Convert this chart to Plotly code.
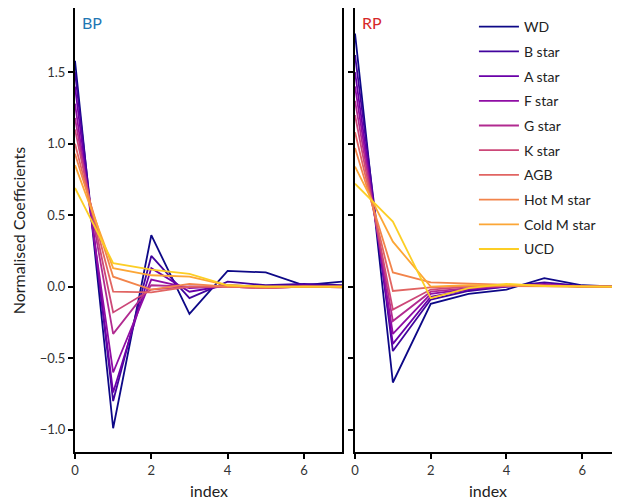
import plotly.graph_objects as go

index = [0, 1, 2, 3, 4, 5, 6, 7]
classes = ["WD", "B star", "A star", "F star", "G star", "K star", "AGB",
           "Hot M star", "Cold M star", "UCD"]
colors = ["#0d0887", "#41049d", "#6a00a8", "#8f0da4", "#b12a90", "#cc4778",
          "#e16462", "#f2844b", "#fca636", "#fcce25"]

bp_wd = [1.58, -0.99, 0.36, -0.19, 0.11, 0.10, 0.01, 0.035]
bp_b = [1.50, -0.80, 0.215, -0.08, 0.035, 0.01, 0.02, 0.01]
bp_a = [1.40, -0.74, 0.13, -0.035, 0.01, 0.0, 0.01, 0.0]
bp_f = [1.28, -0.60, 0.05, -0.01, 0.005, -0.005, 0.0, 0.0]
bp_g = [1.18, -0.33, 0.01, 0.0, 0.0, -0.01, 0.0, 0.0]
bp_k = [1.10, -0.18, -0.02, 0.0, 0.0, -0.01, 0.0, -0.005]
bp_agb = [1.00, -0.035, -0.04, 0.0, 0.0, -0.01, 0.0, -0.005]
bp_hotm = [0.93, 0.07, -0.02, 0.02, 0.0, 0.0, 0.0, 0.0]
bp_coldm = [0.85, 0.13, 0.08, 0.07, 0.01, 0.0, 0.0, 0.0]
bp_ucd = [0.69, 0.165, 0.12, 0.09, 0.01, 0.0, 0.0, 0.0]

rp_wd = [1.77, -0.67, -0.12, -0.05, -0.02, 0.06, 0.01, 0.0]
rp_b = [1.62, -0.45, -0.09, -0.03, 0.0, 0.03, 0.005, 0.0]
rp_a = [1.50, -0.40, -0.07, -0.02, 0.0, 0.02, 0.0, 0.0]
rp_f = [1.40, -0.33, -0.05, -0.015, 0.005, 0.015, 0.0, 0.0]
rp_g = [1.30, -0.24, -0.035, -0.01, 0.005, 0.01, 0.0, 0.0]
rp_k = [1.20, -0.16, -0.02, 0.0, 0.005, 0.01, 0.0, 0.0]
rp_agb = [1.08, -0.03, -0.005, 0.005, 0.005, 0.005, 0.0, 0.0]
rp_hotm = [0.97, 0.10, 0.03, 0.02, 0.01, 0.005, 0.0, 0.0]
rp_coldm = [0.84, 0.315, 0.0, 0.01, 0.01, 0.005, 0.0, 0.0]
rp_ucd = [0.72, 0.455, -0.08, -0.01, 0.02, 0.005, 0.0, 0.0]

bp_series = [bp_wd, bp_b, bp_a, bp_f, bp_g, bp_k, bp_agb, bp_hotm, bp_coldm, bp_ucd]
rp_series = [rp_wd, rp_b, rp_a, rp_f, rp_g, rp_k, rp_agb, rp_hotm, rp_coldm, rp_ucd]

fig = go.Figure()
for i, name in enumerate(classes):
    fig.add_trace(go.Scatter(x=index, y=bp_series[i], mode="lines", name=name,
                             line=dict(color=colors[i], width=1.8),
                             xaxis="x", yaxis="y", showlegend=False,
                             legendgroup=name))
for i, name in enumerate(classes):
    fig.add_trace(go.Scatter(x=index, y=rp_series[i], mode="lines", name=name,
                             line=dict(color=colors[i], width=1.8),
                             xaxis="x2", yaxis="y2", showlegend=True,
                             legendgroup=name))

font_family = "Lato, 'Open Sans', sans-serif"
axis_common = dict(showline=True, linecolor="black", linewidth=2, mirror=True,
                   ticks="outside", tickcolor="black", tickwidth=1.5, ticklen=5,
                   showgrid=False, zeroline=False, automargin=False,
                   tickfont=dict(size=13, color="#333333"))

# the page body has an 8px margin, so the figure is 612x493
fig.update_layout(
    width=612, height=493,
    margin=dict(l=67, r=0, t=0, b=49),
    paper_bgcolor="white", plot_bgcolor="white",
    font=dict(family=font_family, color="#222222"),
    xaxis=dict(domain=[0, 0.49], range=[0, 7], tickvals=[0, 2, 4, 6],
               **axis_common),
    xaxis2=dict(domain=[0.5138, 1.0], range=[0, 7], tickvals=[0, 2, 4, 6],
                anchor="y2", **axis_common),
    yaxis=dict(range=[-1.156, 1.949], tickvals=[-1.0, -0.5, 0.0, 0.5, 1.0, 1.5],
               tickformat=".1f", **axis_common),
    yaxis2=dict(range=[-1.156, 1.949], tickvals=[-1.0, -0.5, 0.0, 0.5, 1.0, 1.5],
                anchor="x2", matches="y", showticklabels=False,
                **axis_common),
    legend=dict(x=0.732, y=0.993, xanchor="left", yanchor="top",
                bgcolor="rgba(0,0,0,0)", font=dict(size=14, color="#222222"),
                tracegroupgap=3.5, itemwidth=40),
    annotations=[
        dict(text="BP", xref="x domain", yref="y domain", x=0.02, y=0.993,
             xanchor="left", yanchor="top", showarrow=False,
             font=dict(size=16, color="#1f77b4")),
        dict(text="RP", xref="x2 domain", yref="y2 domain", x=0.02, y=0.993,
             xanchor="left", yanchor="top", showarrow=False,
             font=dict(size=16, color="#d62728")),
        dict(text="index", xref="x domain", yref="paper", x=0.5, y=-0.086,
             xanchor="center", yanchor="middle", showarrow=False,
             font=dict(size=16, color="#222222")),
        dict(text="index", xref="x2 domain", yref="paper", x=0.5, y=-0.086,
             xanchor="center", yanchor="middle", showarrow=False,
             font=dict(size=16, color="#222222")),
        dict(text="Normalised Coefficients", xref="paper", yref="paper",
             x=-0.104, y=0.5, xanchor="center", yanchor="middle",
             textangle=-90, showarrow=False,
             font=dict(size=16, color="#222222")),
    ],
)

fig.write_html("out.html")
